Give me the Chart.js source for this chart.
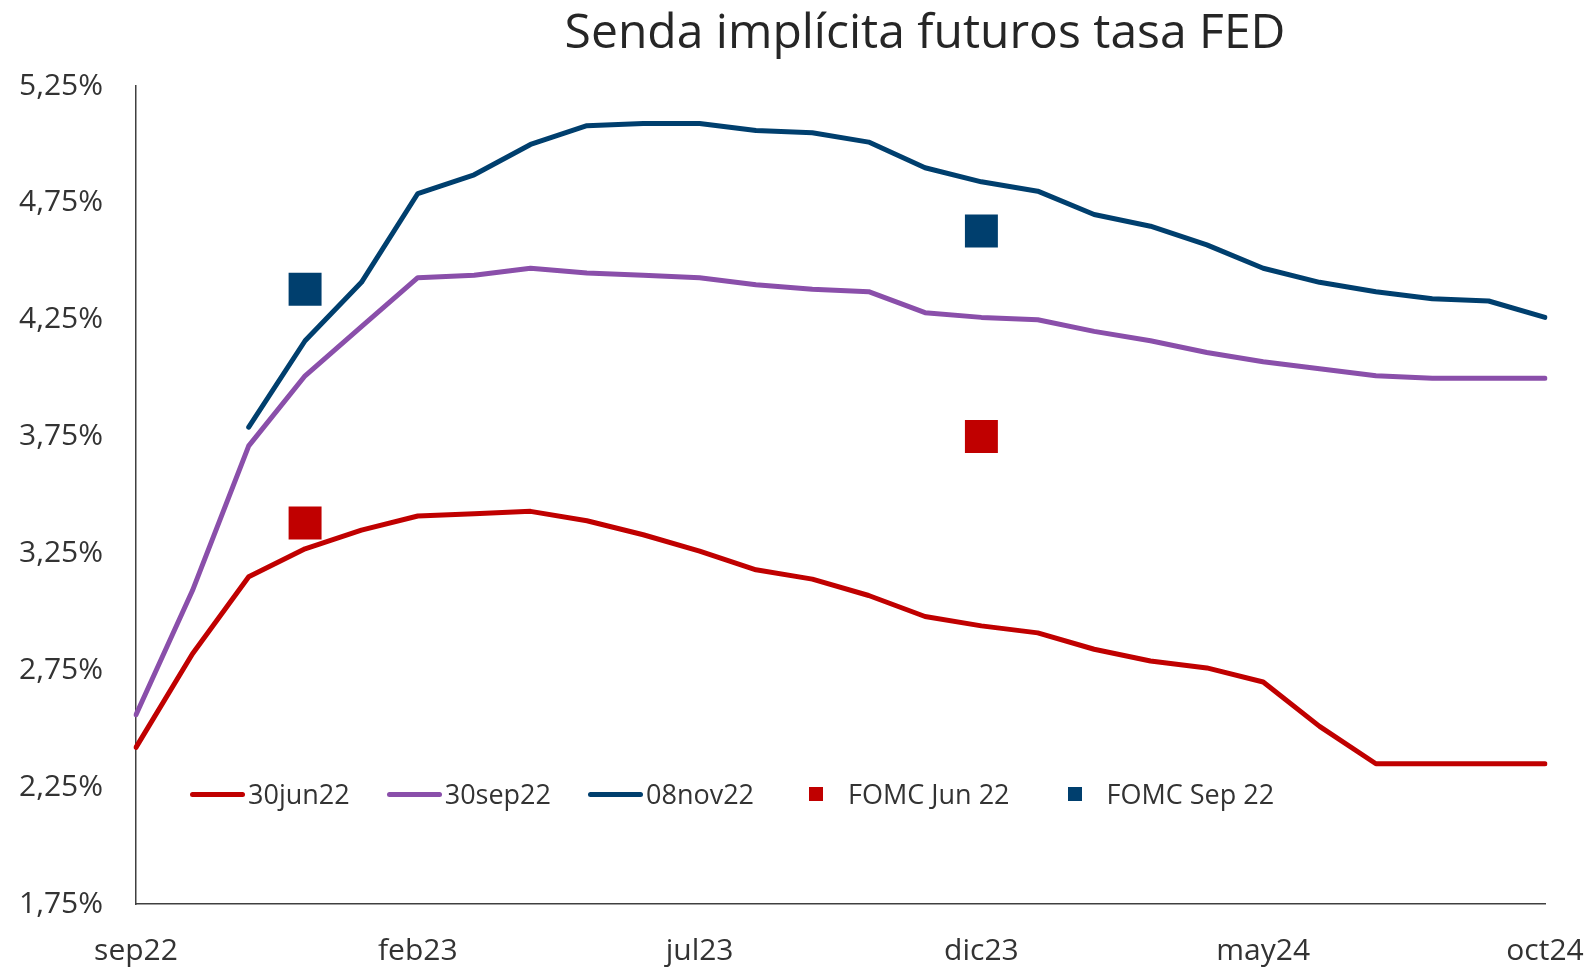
<!DOCTYPE html>
<html lang="es">
<head>
<meta charset="UTF-8">
<title>Senda implícita futuros tasa FED</title>
<script src="https://cdn.jsdelivr.net/npm/chart.js"></script>
<style>
    body { margin: 0; background: #fff; font-family: "Open Sans", sans-serif; color: #333; }
    .wrap { position: relative; width: 1590px; height: 970px; }
    .title {
        position: absolute; top: 6px; left: 925px; transform: translateX(-50%);
        font-size: 48px; line-height: 1; white-space: nowrap; color: #262626;
    }
    .legend {
        position: absolute; top: 774px; left: 190px; height: 40px;
        display: flex; align-items: center; font-size: 27px; line-height: 40px; color: #333;
    }
    .legend .item { display: flex; align-items: center; margin-right: 37px; }
    .legend .item.mk { margin-right: 40px; }
    .legend .sym { width: 55px; height: 40px; display: flex; align-items: center; justify-content: center; }
    .legend .item.mk .sym { width: 50px; }
    .legend .line { width: 55px; height: 5px; border-radius: 3px; }
    .legend .sq { width: 14px; height: 14px; }
    .legend .txt { margin-left: 3px; white-space: nowrap; }
    .legend .item.mk .txt { margin-left: 7px; }
</style>
</head>
<body>
<div class="wrap">
    <canvas id="fedChart"></canvas>
    <div class="title">Senda implícita futuros tasa FED</div>
    <div class="legend" id="legend"></div>
</div>
<script>
    // meses del eje x
    const months = ['sep22','oct22','nov22','dic22','ene23','feb23','mar23','abr23','may23','jun23','jul23','ago23',
                    'sep23','oct23','nov23','dic23','ene24','feb24','mar24','abr24','may24','jun24','jul24','ago24','sep24','oct24'];

    // futuros tasa FED (%)
    const jun22 = [2.42,2.82,3.15,3.27,3.35,3.41,3.42,3.43,3.39,3.33,3.26,3.18,3.14,3.07,2.98,2.94,2.91,2.84,2.79,2.76,2.70,2.51,2.35,2.35,2.35,2.35];
    const sep22 = [2.56,3.09,3.71,4.01,4.22,4.43,4.44,4.47,4.45,4.44,4.43,4.40,4.38,4.37,4.28,4.26,4.25,4.20,4.16,4.11,4.07,4.04,4.01,4.00,4.00,4.00];
    const nov22 = [null,null,3.79,4.16,4.41,4.79,4.87,5.00,5.08,5.09,5.09,5.06,5.05,5.01,4.90,4.84,4.80,4.70,4.65,4.57,4.47,4.41,4.37,4.34,4.33,4.26];

    // proyecciones FOMC (dic22, dic23)
    const fomcMonths = ['dic22', 'dic23'];
    const fomcJun = [3.38, 3.75];
    const fomcSep = [4.38, 4.63];

    const RED = '#C00000', PURPLE = '#8A4FAA', BLUE = '#003F6E';

    function toSeries(vals) {
        return months.map(m => {
            const k = fomcMonths.indexOf(m);
            return k >= 0 ? vals[k] : null;
        });
    }

    const lineDs = (label, data, color) => ({
        label, data, borderColor: color, backgroundColor: color,
        borderWidth: 5, pointRadius: 0, borderJoinStyle: 'round', borderCapStyle: 'round',
        tension: 0, kind: 'line'
    });
    const markDs = (label, data, color) => ({
        label, data, borderColor: color, backgroundColor: color,
        showLine: false, pointStyle: 'rect', pointRadius: 23.3, pointBorderWidth: 0,
        pointHoverRadius: 23.3, kind: 'mark'
    });

    const datasets = [
        lineDs('30jun22', jun22, RED),
        lineDs('30sep22', sep22, PURPLE),
        lineDs('08nov22', nov22, BLUE),
        markDs('FOMC Jun 22', toSeries(fomcJun), RED),
        markDs('FOMC Sep 22', toSeries(fomcSep), BLUE)
    ];

    const tickFont = { family: '"Open Sans", sans-serif', size: 30 };

    new Chart(document.getElementById('fedChart'), {
        type: 'line',
        data: { labels: months, datasets },
        options: {
            responsive: true,
            maintainAspectRatio: false,
            animation: false,
            layout: { padding: { top: 86, right: 45, bottom: 0, left: 0 } },
            plugins: { legend: { display: false }, tooltip: { enabled: false }, title: { display: false } },
            scales: {
                x: {
                    offset: false,
                    grid: { display: false, drawTicks: false },
                    border: { display: true, color: '#404040', width: 1.5 },
                    ticks: {
                        autoSkip: false, maxRotation: 0, padding: 29, color: '#333', font: tickFont,
                        callback: (v, i) => (i % 5 === 0 ? months[i] : '')
                    },
                    afterFit: s => { s.height = 66; s.paddingLeft = 0; s.paddingRight = 0; }
                },
                y: {
                    min: 1.75, max: 5.25,
                    grid: { display: false, drawTicks: false },
                    border: { display: true, color: '#404040', width: 1.5 },
                    ticks: {
                        stepSize: 0.5, padding: 33, color: '#333', font: tickFont,
                        callback: v => v.toFixed(2).replace('.', ',') + '%'
                    },
                    afterFit: s => { s.width = 136; }
                }
            }
        }
    });

    // leyenda dentro del área del gráfico
    const legend = document.getElementById('legend');
    datasets.forEach(ds => {
        const item = document.createElement('div');
        item.className = ds.kind === 'line' ? 'item' : 'item mk';
        const sym = document.createElement('div');
        sym.className = 'sym';
        const mark = document.createElement('div');
        mark.className = ds.kind === 'line' ? 'line' : 'sq';
        mark.style.background = ds.borderColor;
        sym.appendChild(mark);
        const txt = document.createElement('span');
        txt.className = 'txt';
        txt.textContent = ds.label;
        item.appendChild(sym);
        item.appendChild(txt);
        legend.appendChild(item);
    });
</script>
</body>
</html>
